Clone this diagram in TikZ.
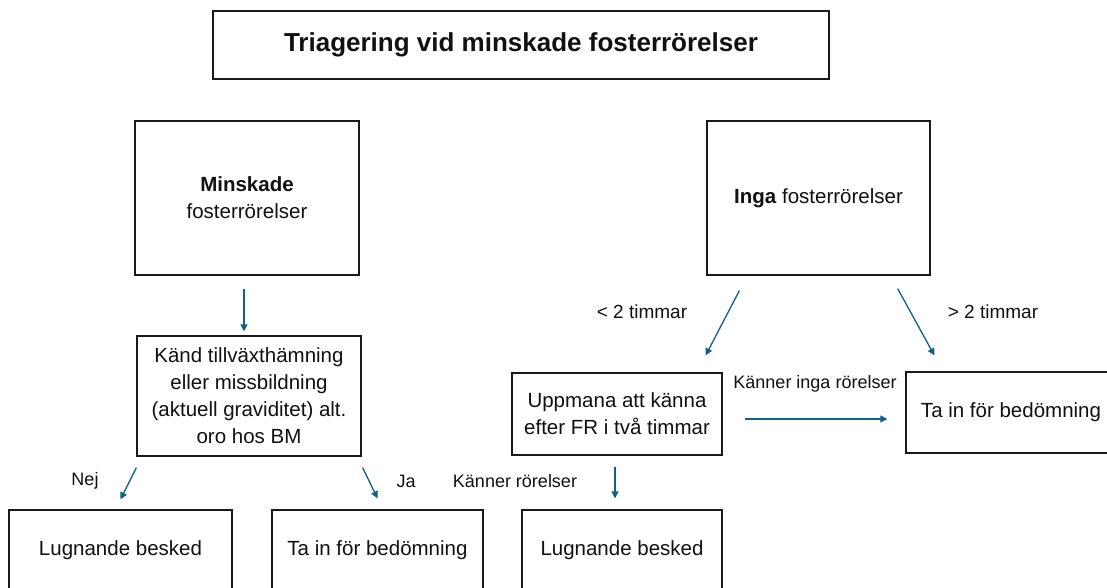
\documentclass[tikz,border=0pt]{standalone}
\usepackage{fontspec}
\setmainfont{Liberation Sans}
\usetikzlibrary{arrows.meta}
\definecolor{arrowblue}{HTML}{156082}
\definecolor{boxline}{HTML}{1A1A1A}
\definecolor{txt}{HTML}{111111}
\tikzset{
  box/.style={draw=boxline, line width=1.3pt, fill=white, align=center, inner sep=2pt, text=txt,
    font=\fontsize{20.5}{27}\selectfont},
  titlebox/.style={draw=boxline, line width=1.3pt, fill=white, text=txt,
    font=\fontsize{26}{30}\selectfont\bfseries},
  lbl/.style={text=txt, inner sep=0pt, font=\fontsize{18}{22}\selectfont},
  lblbig/.style={text=txt, inner sep=0pt, font=\fontsize{19}{22}\selectfont},
  arr/.style={draw=arrowblue, line width=1.3pt, -{Triangle[length=7pt,width=7pt]}}
}
\begin{document}
\begin{tikzpicture}[x=1pt,y=-1pt]
\clip (0,0) rectangle (1107,587);
\fill[white] (0,0) rectangle (1107,587);
% boxes
\node[titlebox, minimum width=616pt, minimum height=68pt] (title) at (521,45) {Triagering vid minskade fosterrörelser};
\node[box, minimum width=224pt, minimum height=154pt] (mins) at (247,198) {\textbf{Minskade}\\fosterrörelser};
\node[box, minimum width=223pt, minimum height=154pt] (inga) at (818.5,198) {\textbf{Inga} fosterrörelser};
\node[box, minimum width=224pt, minimum height=120pt] (kand) at (249,396) {Känd tillväxthämning\\eller missbildning\\(aktuell graviditet) alt.\\oro hos BM};
\node[box, minimum width=210pt, minimum height=82pt] (upp) at (617,414) {Uppmana att känna\\efter FR i två timmar};
\node[box, minimum width=210pt, minimum height=81pt] (tar) at (1011,412.5) {Ta in för bedömning};
\node[box, minimum width=223pt, minimum height=80pt] (b1) at (120.5,550) {Lugnande besked};
\node[box, minimum width=211pt, minimum height=80pt] (b2) at (377.5,550) {Ta in för bedömning};
\node[box, minimum width=200pt, minimum height=80pt] (b3) at (622,550) {Lugnande besked};
% labels
\node[lbl] (lnej) at (85,481) {Nej};
\node[lbl] (lja) at (406,481) {Ja};
\node[lbl] (lkr) at (515,481) {Känner rörelser};
\node[lblbig] (llt) at (642,312) {< 2 timmar};
\node[lblbig] (lgt) at (993,312) {> 2 timmar};
\node[lbl] (lkir) at (815,384) {Känner inga rörelser};
% arrows
\draw[arr] ([xshift=-3pt,yshift=-13pt]mins.south) -- ([xshift=-5pt,yshift=4pt]kand.north);
\draw[arr] ([yshift=-11pt]kand.south west) -- ([yshift=10pt]b1.north);
\draw[arr] ([xshift=1pt,yshift=-11pt]kand.south east) -- ([yshift=11pt]b2.north);
\draw[arr] ([xshift=-2pt,yshift=-11pt]upp.south) -- ([xshift=-7pt,yshift=11pt]b3.north);
\draw[arr] ([xshift=33pt,yshift=-15pt]inga.south west) -- ([xshift=-17pt,yshift=17pt]upp.north east);
\draw[arr] ([xshift=-33pt,yshift=-13pt]inga.south east) -- ([xshift=29pt,yshift=16pt]tar.north west);
\draw[arr] ([xshift=22pt,yshift=-5pt]upp.east) -- ([xshift=-18pt,yshift=-6.5pt]tar.west);
\end{tikzpicture}
\end{document}
